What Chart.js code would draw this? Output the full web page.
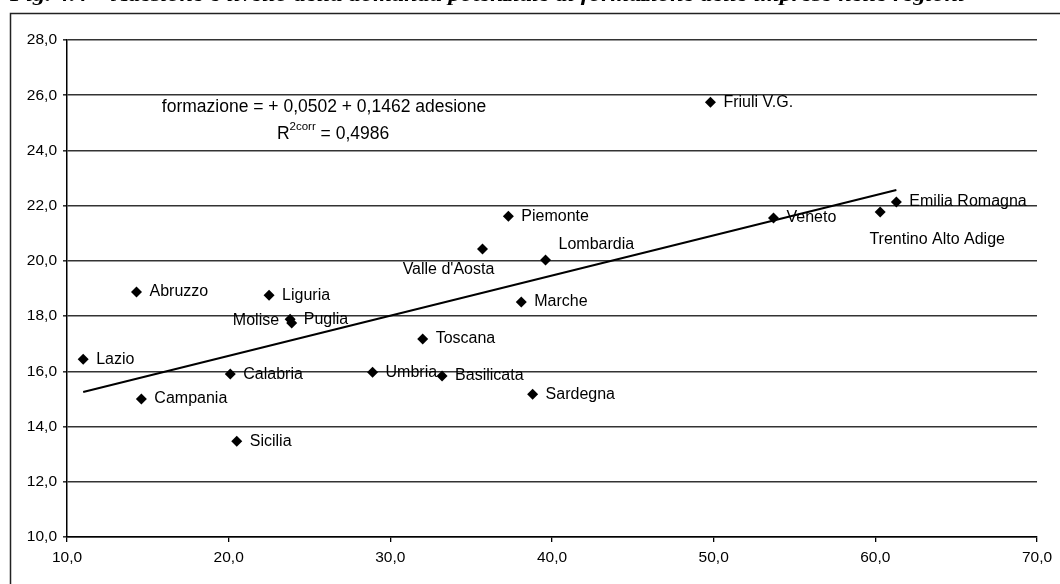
<!DOCTYPE html>
<html lang="it">
<head>
<meta charset="utf-8">
<title>Adesione e formazione nelle regioni</title>
<script src="https://cdn.jsdelivr.net/npm/chart.js@4.4.1/dist/chart.umd.min.js"></script>
<style>
  html, body { margin: 0; padding: 0; background: #ffffff; }
  #wrap { width: 1060px; height: 584px; position: relative; }
</style>
</head>
<body>
<div id="wrap"><canvas id="chart" width="1060" height="584"></canvas></div>
<script>
// Regions and their values: adesione (x) and formazione (y)
const regioni = [
  "Lazio", "Abruzzo", "Campania", "Calabria", "Sicilia", "Liguria",
  "Molise", "Puglia", "Umbria", "Toscana", "Basilicata", "Valle d'Aosta",
  "Piemonte", "Marche", "Sardegna", "Lombardia", "Friuli V.G.", "Veneto",
  "Trentino Alto Adige", "Emilia Romagna"
];
const adesione = [
  11.0, 14.3, 14.6, 20.1, 20.5, 22.5,
  23.8, 23.9, 28.9, 32.0, 33.2, 35.7,
  37.3, 38.1, 38.8, 39.6, 49.8, 53.7,
  60.3, 61.3
];
const formazione = [
  16.44, 18.87, 15.00, 15.90, 13.47, 18.76,
  17.89, 17.75, 15.97, 17.17, 15.83, 20.43,
  21.62, 18.51, 15.17, 20.03, 25.75, 21.55,
  21.77, 22.13
];

// Regression line endpoints
const trendX = [11.0, 61.3];
const trendY = [15.25, 22.57];

// Axis ticks
const xTicks = [10, 20, 30, 40, 50, 60, 70];
const yTicks = [10, 12, 14, 16, 18, 20, 22, 24, 26, 28];

const titolo = "Fig. 4.4 \u2013 Adesione e livello della domanda potenziale di formazione delle imprese nelle regioni";
const equazione = "formazione = + 0,0502 + 0,1462 adesione";
const r2Valore = "0,4986";

const fmt = v => v.toFixed(1).replace(".", ",");
const FONT = "'Liberation Sans', Arial, sans-serif";

// Where each label sits relative to its marker
const labelPlacement = {
  "Molise": { dx: -11, dy: 1, align: "right" },
  "Valle d'Aosta": { dx: -34, dy: 21, align: "center" },
  "Lombardia": { dx: 13, dy: -15, align: "left" },
  "Trentino Alto Adige": { dx: 57, dy: 28, align: "center" },
  "Puglia": { dx: 12, dy: -3, align: "left" }
};

const background = {
  id: "background",
  beforeDraw(chart) {
    const ctx = chart.ctx;
    ctx.save();
    ctx.fillStyle = "#ffffff";
    ctx.fillRect(0, 0, chart.width, chart.height);
    // outer frame
    ctx.strokeStyle = "#222";
    ctx.lineWidth = 1.5;
    ctx.beginPath();
    ctx.moveTo(10.5, chart.height + 2);
    ctx.lineTo(10.5, 13.5);
    ctx.lineTo(chart.width + 2, 13.5);
    ctx.stroke();
    // caption above the frame
    ctx.fillStyle = "#000";
    ctx.font = "italic bold 19px 'Liberation Serif', 'Times New Roman', serif";
    ctx.textBaseline = "alphabetic";
    const w = ctx.measureText(titolo).width;
    const target = 955;
    ctx.translate(10, 1);
    ctx.scale(target / w, 1);
    ctx.fillText(titolo, 0, 0);
    ctx.restore();
  }
};

const annotations = {
  id: "annotations",
  afterDatasetsDraw(chart) {
    const ctx = chart.ctx;
    const meta = chart.getDatasetMeta(1);
    ctx.save();
    ctx.fillStyle = "#000";
    ctx.font = "16px " + FONT;
    ctx.textBaseline = "middle";
    meta.data.forEach((pt, i) => {
      const name = regioni[i];
      const p = labelPlacement[name] || { dx: 13, dy: 0, align: "left" };
      ctx.textAlign = p.align;
      ctx.fillText(name, pt.x + p.dx, pt.y + p.dy);
    });

    // regression equation
    const xs = chart.scales.x, ys = chart.scales.y;
    const cx = xs.getPixelForValue(25.9);
    const y1 = ys.getPixelForValue(25.57);
    const y2 = ys.getPixelForValue(24.6);
    ctx.font = "17.5px " + FONT;
    ctx.textAlign = "center";
    ctx.fillText(equazione, cx, y1);

    const big = "17.5px " + FONT, small = "11.5px " + FONT;
    ctx.font = big;
    const wR = ctx.measureText("R").width;
    const rest = " = " + r2Valore;
    const wRest = ctx.measureText(rest).width;
    ctx.font = small;
    const wSup = ctx.measureText("2corr").width;
    const total = wR + wSup + wRest;
    let x0 = cx + 9 - total / 2;
    ctx.textAlign = "left";
    ctx.font = big;
    ctx.fillText("R", x0, y2);
    ctx.font = small;
    ctx.fillText("2corr", x0 + wR, y2 - 7);
    ctx.font = big;
    ctx.fillText(rest, x0 + wR + wSup, y2);
    ctx.restore();
  }
};

new Chart(document.getElementById("chart"), {
  type: "scatter",
  data: {
    datasets: [
      {
        label: "retta",
        type: "line",
        data: trendX.map((x, i) => ({ x, y: trendY[i] })),
        borderColor: "#000",
        borderWidth: 2,
        pointRadius: 0,
        fill: false,
        tension: 0
      },
      {
        label: "regioni",
        data: adesione.map((x, i) => ({ x, y: formazione[i] })),
        pointStyle: "rectRot",
        pointRadius: 5.5,
        pointBackgroundColor: "#000",
        pointBorderColor: "#000",
        pointBorderWidth: 0
      }
    ]
  },
  options: {
    responsive: false,
    animation: false,
    events: [],
    layout: { padding: { left: 12, right: 23, top: 40, bottom: 14 } },
    plugins: {
      legend: { display: false },
      tooltip: { enabled: false },
      title: { display: false }
    },
    scales: {
      x: {
        type: "linear",
        min: 10, max: 70,
        afterBuildTicks: s => { s.ticks = xTicks.map(v => ({ value: v })); },
        afterFit: s => { s.height = 33; },
        ticks: {
          color: "#000",
          font: { family: FONT, size: 15.5 },
          padding: 6,
          maxRotation: 0,
          callback: v => fmt(v)
        },
        grid: {
          drawOnChartArea: false,
          drawTicks: true,
          tickLength: 5,
          color: "#000",
          lineWidth: 1.3
        },
        border: { display: true, color: "#000", width: 1.5 }
      },
      y: {
        type: "linear",
        min: 10, max: 28,
        afterBuildTicks: s => { s.ticks = yTicks.map(v => ({ value: v })); },
        afterFit: s => { s.width = 55; },
        ticks: {
          color: "#000",
          font: { family: FONT, size: 15.5 },
          padding: 6,
          callback: v => fmt(v)
        },
        grid: {
          drawOnChartArea: true,
          drawTicks: true,
          tickLength: 4,
          color: "#333",
          lineWidth: 1.6
        },
        border: { display: true, color: "#000", width: 1.5 }
      }
    }
  },
  plugins: [background, annotations]
});
</script>
</body>
</html>
